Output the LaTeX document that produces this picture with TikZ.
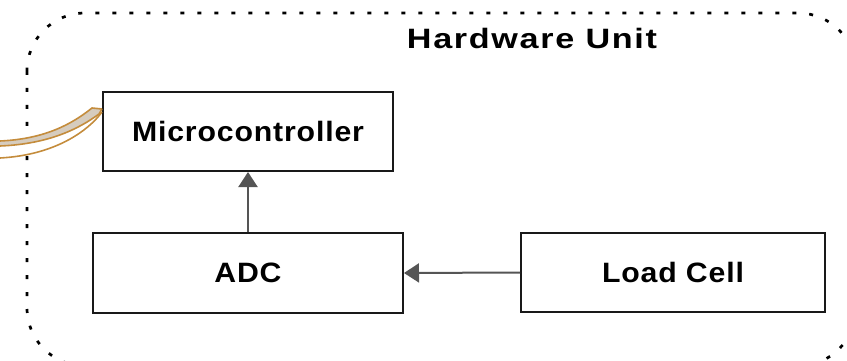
\documentclass[tikz,border=0pt]{standalone}
\usepackage{fontspec}
\setmainfont{Liberation Sans}
\newfontfamily\labfont[FakeStretch=1.08,LetterSpace=3]{Liberation Sans}
\newfontfamily\titlefont[FakeStretch=1.22,LetterSpace=6]{Liberation Sans}
\usetikzlibrary{arrows.meta}
\definecolor{cable}{RGB}{196,140,60}
\definecolor{cablefill}{RGB}{214,204,190}
\definecolor{arrgray}{RGB}{85,85,85}
\tikzset{
  blockbox/.style={draw=black!90, line width=2pt, fill=white, inner sep=0pt,
    font=\labfont\bfseries\fontsize{28}{32}\selectfont},
  flowarrow/.style={draw=arrgray, line width=2pt, -{Triangle[length=15pt,width=19pt]}},
  unitborder/.style={draw=black, line width=2.7pt, dash pattern=on 4pt off 13pt, rounded corners=58pt},
  cableline/.style={draw=cable, line width=1.6pt}
}
\begin{document}
\begin{tikzpicture}[x=1pt,y=-1pt]
\useasboundingbox (0,0) rectangle (847,361);
\begin{scope}
  \clip (0,0) rectangle (847,361);
  \draw[unitborder] (27,13) rectangle (856,366);
\end{scope}
\node[font=\titlefont\bfseries\fontsize{28}{32}\selectfont] (title) at (532,38) {Hardware Unit};
\node[blockbox, minimum width=290pt, minimum height=79pt] (mc) at (248,131.5) {Microcontroller};
\node[blockbox, minimum width=310pt, minimum height=80pt] (adc) at (248,273) {ADC};
\node[blockbox, minimum width=304pt, minimum height=79pt] (lc) at (673,272.5) {Load Cell};
\draw[flowarrow] (adc.north) -- (mc.south);
\draw[flowarrow] (lc.west) -- (adc.east);
% cable entering the microcontroller
\coordinate (ca) at ([xshift=-10pt,yshift=-17pt]mc.north west);
\coordinate (cb) at ([yshift=-18pt]mc.north west);
\coordinate (cm) at ([xshift=-3pt,yshift=-23pt]mc.north west);
\coordinate (cc) at ([yshift=-21pt]mc.north west);
\coordinate (la) at (0,141);
\coordinate (lb) at (0,146);
\coordinate (lcx) at (0,158);
\fill[cablefill] (la) .. controls (45,139) and (72,124) .. (ca) -- (cb) -- (cm) .. controls (80,128) and (50,144) .. (lb) -- cycle;
\draw[cableline] (la) .. controls (45,139) and (72,124) .. (ca) -- (cb);
\draw[cableline] (lb) .. controls (50,144) and (80,128) .. (cm) -- (cb);
\draw[cableline] (lcx) .. controls (55,155) and (88,131) .. (cc);
\end{tikzpicture}
\end{document}
